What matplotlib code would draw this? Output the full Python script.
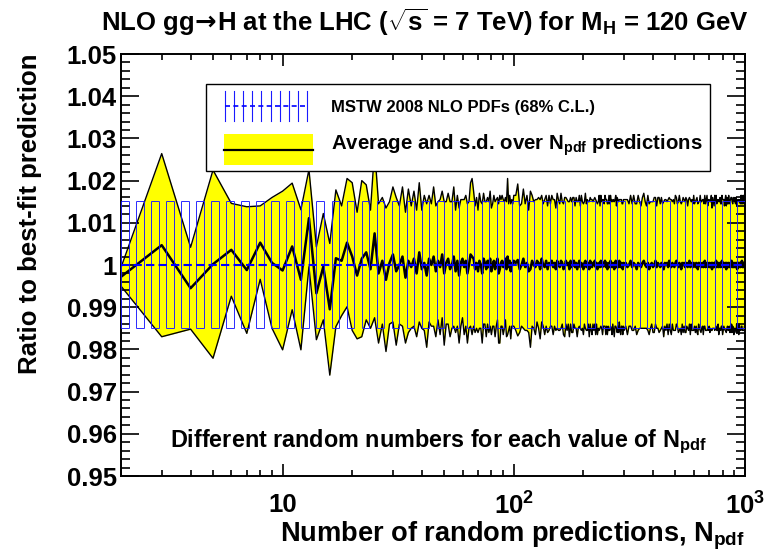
import numpy as np
import matplotlib
matplotlib.use("Agg")
import matplotlib.pyplot as plt
from matplotlib.patches import Rectangle
from matplotlib.ticker import (MultipleLocator, FixedLocator, FixedFormatter,
                               LogLocator, NullFormatter, FuncFormatter)

plt.rcParams['font.family'] = ['Liberation Sans', 'DejaVu Sans']
plt.rcParams['font.weight'] = 'bold'
plt.rcParams['mathtext.fontset'] = 'custom'
plt.rcParams['mathtext.rm'] = 'Liberation Sans:bold'
plt.rcParams['mathtext.it'] = 'Liberation Sans:bold'
plt.rcParams['mathtext.bf'] = 'Liberation Sans:bold'
plt.rcParams['mathtext.sf'] = 'DejaVu Sans'
plt.rcParams['mathtext.default'] = 'regular'

# N_pdf values: every N up to 100, then every 2nd up to 300, then every 5th
n_pdf = np.concatenate([np.arange(2, 101), np.arange(102, 301, 2), np.arange(305, 1001, 5)])

# average over N_pdf predictions, as (ratio - 1) in units of 1e-4
mean_e4 = [
    # N = 2..19
    -28, 47, -55, 2, 36, -12, 53, 5, -13, 44, -35, 111, -67, -4, -105, 16, 10, 53,
    # N = 20..100
    20, -25, 15, 30, -10, 75, -20, 10, -35, 5,
    25, -15, 0, 20, -30, 10, -5, 15, -20, 30,
    -10, 5, -25, 15, 0, 20, -15, 10, -5, 25,
    -20, 5, 15, -10, 0, 20, -15, 10, -25, 5,
    15, -5, 10, -20, 0, 25, 20, 15, -10, 5,
    -15, 10, 0, -20, 15, 5, -10, 10, -5, 15,
    -15, 0, 10, -10, 5, 15, -20, -10, 5, 10,
    -5, 0, 15, -10, 20, -5, 10, -15, 5, 0,
    10,
    # N = 102..300 (step 2)
    5, 12, -10, 0, 15, -5, 5, -15, -10, 10,
    0, -5, 10, 5, -10, 15, 0, -5, 10, -10,
    5, 0, 10, -5, 5, -10, 10, 0, -5, 10,
    5, -10, -5, 10, 0, 5, -10, 10, -5, 0,
    10, -5, 5, -10, 0, 10, -5, 5, 0, -10,
    5, 10, -5, 0, 5, -10, 10, 0, -5, 5,
    0, 10, -5, 5, -10, 0, 5, -5, 10, 0,
    -5, 5, 0, 10, -5, 5, -10, 0, 5, -5,
    10, 0, -5, 5, 0, -10, 5, 10, -5, 0,
    5, -5, 10, 0, -5, 5, 0, -10, 5, 0,
    # N = 305..1000 (step 5)
    5, -5, 0, 10, -5, 5, 0, -10, 5, 0,
    -5, 5, 10, 0, -5, 5, -10, 0, 5, -5,
    0, 10, -5, 5, 0, -5, 5, 0, -10, 5,
    0, 5, -5, 10, 0, -5, 5, 0, -5, 5,
    10, 0, -5, 5, 0, -10, 5, 0, 5, -5,
    0, 5, -5, 0, 10, -5, 5, 0, -5, 5,
    0, -5, 5, 0, -10, 5, 0, 5, -5, 0,
    5, -5, 0, 10, -5, 0, 5, -5, 0, 5,
    -5, 0, 5, -10, 5, 0, -5, 5, 0, 10,
    -5, 0, 5, -5, 0, 5, -5, 0, 10, -5,
    0, 5, -5, 0, 5, -10, 5, 0, -5, 5,
    0, -5, 5, 0, 10, -5, 0, 5, -5, 0,
    5, -5, 0, 5, -10, 0, 5, -5, 5, 0,
    -5, 5, 0, 10, -5, 0, 5, -5, 0, 5,
]

# standard deviation over N_pdf predictions, units of 1e-4
sd_e4 = [
    # N = 2..19
    22, 217, 97, 223, 110, 150, 87, 155, 188, 150, 166, 115, 110, 126, 156, 162, 130, 152,
    # N = 20..100
    175, 150, 185, 160, 140, 200, 165, 150, 170, 145,
    160, 175, 140, 165, 155, 170, 145, 160, 150, 165,
    140, 160, 170, 150, 145, 165, 155, 140, 160, 150,
    170, 145, 155, 160, 150, 165, 145, 155, 160, 150,
    140, 160, 155, 165, 150, 170, 185, 160, 150, 155,
    145, 160, 150, 165, 155, 145, 160, 150, 155, 160,
    150, 145, 155, 160, 150, 145, 165, 175, 150, 155,
    160, 150, 145, 160, 185, 150, 155, 160, 150, 145,
    155,
    # N = 102..300 (step 2)
    160, 180, 150, 145, 165, 150, 160, 145, 185, 155,
    150, 160, 145, 155, 165, 150, 145, 160, 155, 150,
    160, 145, 155, 160, 150, 145, 160, 155, 150, 160,
    145, 155, 165, 150, 155, 145, 160, 150, 155, 160,
    150, 145, 155, 160, 150, 155, 145, 160, 150, 155,
    145, 160, 150, 155, 145, 160, 150, 155, 160, 145,
    155, 150, 160, 145, 155, 150, 160, 145, 155, 150,
    160, 150, 145, 155, 160, 150, 155, 145, 160, 150,
    155, 150, 160, 145, 155, 160, 150, 155, 145, 160,
    150, 155, 145, 155, 160, 150, 145, 155, 150, 155,
    # N = 305..1000 (step 5)
    150, 160, 145, 155, 150, 160, 145, 155, 160, 150,
    145, 155, 160, 150, 145, 160, 155, 150, 145, 155,
    160, 150, 145, 155, 160, 150, 155, 145, 160, 150,
    155, 145, 160, 150, 155, 160, 145, 155, 150, 160,
    150, 145, 155, 160, 150, 155, 145, 160, 150, 155,
    160, 150, 145, 155, 150, 160, 145, 155, 150, 160,
    145, 155, 150, 160, 155, 145, 150, 160, 155, 150,
    150, 160, 145, 155, 150, 155, 160, 145, 155, 150,
    155, 150, 160, 145, 155, 150, 145, 160, 150, 155,
    150, 155, 145, 160, 150, 155, 150, 145, 155, 160,
    155, 150, 145, 155, 160, 150, 155, 145, 150, 160,
    145, 155, 150, 160, 150, 155, 145, 155, 160, 150,
    155, 150, 160, 145, 150, 155, 150, 160, 145, 155,
    150, 160, 145, 155, 150, 155, 160, 150, 145, 155,
]

# MSTW 2008 NLO PDF uncertainty band (68% C.L.)
mstw_central = 1.0
mstw_up = 1.0152
mstw_down = 0.9850

title = r'NLO gg$\!\mathsf{\rightarrow}\!$H at the LHC ($\sqrt{s}$ = 7 TeV) for M$_{H}$ = 120 GeV'
ylabel = 'Ratio to best-fit prediction'
xlabel = r'Number of random predictions, N$_{pdf}$'
legend_mstw = 'MSTW 2008 NLO PDFs (68% C.L.)'
legend_avg = r'Average and s.d. over N$_{pdf}$ predictions'
note = r'Different random numbers for each value of N$_{pdf}$'

mean = 1 + np.array(mean_e4) * 1e-4
sd = np.array(sd_e4) * 1e-4

fig = plt.figure(figsize=(7.69, 5.54), dpi=100)
ax = fig.add_axes([121 / 769, 78 / 554, 624 / 769, 422 / 554])
ax.set_xscale('log')

# yellow band + black lines
ax.fill_between(n_pdf, mean - sd, mean + sd, color='#ffff00', lw=0, zorder=1)
ax.plot(n_pdf, mean + sd, color='k', lw=1.0, zorder=2)
ax.plot(n_pdf, mean - sd, color='k', lw=1.0, zorder=2)
ax.plot(n_pdf, mean, color='k', lw=1.8, zorder=3)

# blue MSTW band drawn as thin open boxes
box_w = 10 ** 0.0325
box_left = np.geomspace(2, 1000 / box_w, 42)
box_right = box_left * box_w
blue = '#1a1aff'
ax.vlines(np.concatenate([box_left, box_right]), mstw_down, mstw_up, color=blue, lw=0.65, zorder=4)
ax.hlines([mstw_up] * len(box_left), box_left, box_right, color=blue, lw=0.65, zorder=4)
ax.hlines([mstw_down] * len(box_left), box_left, box_right, color=blue, lw=0.65, zorder=4)
ax.plot([2, 1000], [mstw_central, mstw_central], color='#0000ff', lw=1.5, ls=(0, (4, 2)), zorder=5)

ax.set_xlim(2, 1000)
ax.set_ylim(0.95, 1.05)

for s in ax.spines.values():
    s.set_linewidth(1.4)
ax.tick_params(which='both', direction='in', top=True, right=True, width=1.2, labelsize=18.5)
ax.tick_params(axis='y', which='major', length=13, pad=3)
ax.tick_params(axis='y', which='minor', length=6.5)
ax.tick_params(axis='x', which='major', length=8.5, pad=12)
ax.tick_params(axis='x', which='minor', length=4.3)
ax.yaxis.set_major_locator(MultipleLocator(0.01))
ax.yaxis.set_minor_locator(MultipleLocator(0.002))
ax.yaxis.set_major_formatter(FuncFormatter(lambda v, p: f'{v:.2f}'.rstrip('0').rstrip('.')))
ax.xaxis.set_major_locator(FixedLocator([10, 100, 1000]))
ax.xaxis.set_major_formatter(FixedFormatter(['10', '$10^{2}$', '$10^{3}$']))
ax.xaxis.set_minor_locator(LogLocator(base=10, subs=range(2, 10)))
ax.xaxis.set_minor_formatter(NullFormatter())

fig.text(425 / 769, 1 - 31 / 554, title, ha='center', va='baseline', fontsize=18.5)
fig.text(30 / 769, 1 - 53 / 554, ylabel, rotation=90, ha='center', va='top', fontsize=18.5)
fig.text(745 / 769, 1 - 541 / 554, xlabel, ha='right', va='baseline', fontsize=19.6)

# legend box drawn by hand
T = ax.transAxes
ax.add_patch(Rectangle((0.136, 0.723), 0.808, 0.206, transform=T, facecolor='white',
                       edgecolor='black', lw=1, zorder=10, clip_on=False))
for xl in np.linspace(0.1667, 0.298, 10):
    ax.plot([xl, xl], [0.841, 0.912], transform=T, color=blue, lw=0.8, zorder=11)
ax.plot([0.1667, 0.298], [0.877, 0.877], transform=T, color='#0000ff', lw=1.2, ls=(0, (3, 2)), zorder=11)
ax.text(0.3365, 0.8635, legend_mstw, transform=T, fontsize=12, va='baseline', zorder=12)
ax.add_patch(Rectangle((0.1651, 0.737), 0.1432, 0.073, transform=T, facecolor='#ffff00',
                       edgecolor='none', zorder=11))
ax.plot([0.1651, 0.3083], [0.7725, 0.7725], transform=T, color='black', lw=1.6, zorder=12)
ax.text(0.3365, 0.7725, legend_avg, transform=T, fontsize=14.7, va='baseline', zorder=12)

ax.text(0.0785, 0.0687, note, transform=T, fontsize=16.8, va='baseline', zorder=12)

fig.savefig('out.png', dpi=100)
